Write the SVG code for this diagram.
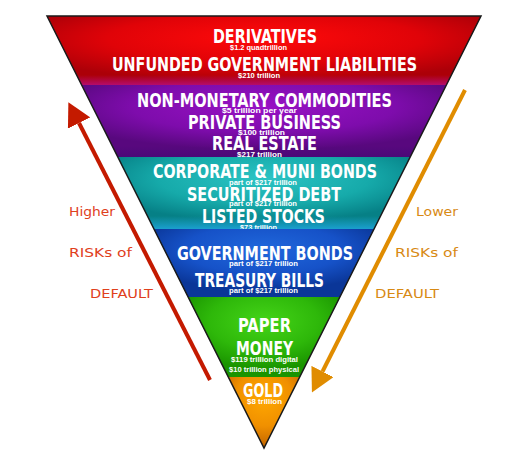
<svg xmlns="http://www.w3.org/2000/svg" width="510" height="464" viewBox="0 0 510 464">
<defs>
<radialGradient id="gRed" cx="0.5" cy="0.35" r="0.6" fx="0.5" fy="0.3">
<stop offset="0" stop-color="#ff0a0a"/><stop offset="0.6" stop-color="#e00308"/><stop offset="1" stop-color="#ac0008"/>
</radialGradient>
<radialGradient id="gPur" cx="0.5" cy="0.3" r="0.6">
<stop offset="0" stop-color="#9812c4"/><stop offset="0.6" stop-color="#7e0cac"/><stop offset="1" stop-color="#58087e"/>
</radialGradient>
<radialGradient id="gTeal" cx="0.5" cy="0.3" r="0.6">
<stop offset="0" stop-color="#2cc4c4"/><stop offset="0.6" stop-color="#16aaaa"/><stop offset="1" stop-color="#068086"/>
</radialGradient>
<radialGradient id="gBlue" cx="0.5" cy="0.3" r="0.6">
<stop offset="0" stop-color="#2068dc"/><stop offset="0.6" stop-color="#1652c8"/><stop offset="1" stop-color="#0a3698"/>
</radialGradient>
<radialGradient id="gGreen" cx="0.5" cy="0.3" r="0.6">
<stop offset="0" stop-color="#44d418"/><stop offset="0.6" stop-color="#2eb80a"/><stop offset="1" stop-color="#1a9400"/>
</radialGradient>
<radialGradient id="gOr" cx="0.5" cy="0.3" r="0.65">
<stop offset="0" stop-color="#ffa800"/><stop offset="0.6" stop-color="#f09000"/><stop offset="1" stop-color="#c86a00"/>
</radialGradient>
<linearGradient id="gRedBot" x1="0" y1="0" x2="0" y2="1">
<stop offset="0" stop-color="#b8108c" stop-opacity="0"/><stop offset="1" stop-color="#b8108c" stop-opacity="0.75"/>
</linearGradient>
<linearGradient id="gTealBot" x1="0" y1="0" x2="0" y2="1">
<stop offset="0" stop-color="#20a8e0" stop-opacity="0"/><stop offset="1" stop-color="#20a8e0" stop-opacity="0.8"/>
</linearGradient>
<linearGradient id="gPurBot" x1="0" y1="0" x2="0" y2="1">
<stop offset="0" stop-color="#3a0a70" stop-opacity="0"/><stop offset="1" stop-color="#3a0a70" stop-opacity="0.45"/>
</linearGradient>
<clipPath id="cpRed"><polygon points="47,16 481,16 446.3,85 81.7,85"/></clipPath>
<clipPath id="cpPur"><polygon points="81.7,85 446.3,85 410.2,157 117.8,157"/></clipPath>
<clipPath id="cpTeal"><polygon points="117.8,157 410.2,157 374,229 154,229"/></clipPath>
<marker id="headRed" viewBox="0 0 10 10" refX="0" refY="5" markerWidth="5.85" markerHeight="6.2" markerUnits="strokeWidth" orient="auto" preserveAspectRatio="none">
<path d="M0,0 L10,5 L0,10 z" fill="#c41a00"/>
</marker>
<marker id="headOr" viewBox="0 0 10 10" refX="0" refY="5" markerWidth="5.85" markerHeight="6.2" markerUnits="strokeWidth" orient="auto" preserveAspectRatio="none">
<path d="M0,0 L10,5 L0,10 z" fill="#e08c00"/>
</marker>
</defs>
<style>
.big{font-family:"Liberation Sans Narrow","DejaVu Sans Condensed","Liberation Sans",sans-serif;font-weight:bold;font-size:19.5px;fill:#fff;text-anchor:middle}
.sm{font-family:"Liberation Sans","DejaVu Sans",sans-serif;font-weight:bold;font-size:7px;fill:#fff;text-anchor:middle}
.hand{font-family:"DejaVu Sans","Liberation Sans",sans-serif;font-size:13px}
.red{fill:#e0401c}
.or{fill:#d88a14}
.edge{fill:none;stroke:#1a1a1a;stroke-width:1.5;stroke-linejoin:miter}
</style>
<rect width="510" height="464" fill="#fff"/>
<g id="band-derivatives">
<polygon points="47,16 481,16 446.3,85 81.7,85" fill="url(#gRed)"/>
<rect x="70" y="75" width="390" height="10" fill="url(#gRedBot)" clip-path="url(#cpRed)"/>
<text class="big" x="265" y="43" textLength="104" lengthAdjust="spacingAndGlyphs">DERIVATIVES</text>
<text class="sm" x="258.5" y="50" textLength="57" lengthAdjust="spacingAndGlyphs">$1.2 quadtrillion</text>
<text class="big" x="264.5" y="71" textLength="305" lengthAdjust="spacingAndGlyphs">UNFUNDED GOVERNMENT LIABILITIES</text>
<text class="sm" x="259" y="77.5" textLength="42" lengthAdjust="spacingAndGlyphs">$210 trillion</text>
</g>
<g id="band-commodities">
<polygon points="81.7,85 446.3,85 410.2,157 117.8,157" fill="url(#gPur)"/>
<rect x="100" y="146" width="330" height="11" fill="url(#gPurBot)" clip-path="url(#cpPur)"/>
<text class="big" x="264.5" y="107" textLength="255" lengthAdjust="spacingAndGlyphs">NON-MONETARY COMMODITIES</text>
<text class="sm" x="259.5" y="112.5" textLength="75" lengthAdjust="spacingAndGlyphs">$5 trillion per year</text>
<text class="big" x="264.5" y="128.5" textLength="153" lengthAdjust="spacingAndGlyphs">PRIVATE BUSINESS</text>
<text class="sm" x="261.5" y="134.5" textLength="47" lengthAdjust="spacingAndGlyphs">$100 trillion</text>
<text class="big" x="264.5" y="150" textLength="105" lengthAdjust="spacingAndGlyphs">REAL ESTATE</text>
<text class="sm" x="259.5" y="157" textLength="45" lengthAdjust="spacingAndGlyphs">$217 trillion</text>
</g>
<g id="band-bonds">
<polygon points="117.8,157 410.2,157 374,229 154,229" fill="url(#gTeal)"/>
<rect x="140" y="216" width="250" height="13" fill="url(#gTealBot)" clip-path="url(#cpTeal)"/>
<text class="big" x="265" y="178" textLength="224" lengthAdjust="spacingAndGlyphs">CORPORATE &amp; MUNI BONDS</text>
<text class="sm" x="263" y="184.5" textLength="68" lengthAdjust="spacingAndGlyphs">part of $217 trillion</text>
<text class="big" x="264" y="201" textLength="154" lengthAdjust="spacingAndGlyphs">SECURITIZED DEBT</text>
<text class="sm" x="263" y="205.5" textLength="68" lengthAdjust="spacingAndGlyphs">part of $217 trillion</text>
<text class="big" x="263.5" y="223" textLength="123" lengthAdjust="spacingAndGlyphs">LISTED STOCKS</text>
<text class="sm" x="258.5" y="229.5" textLength="37" lengthAdjust="spacingAndGlyphs">$73 trillion</text>
</g>
<g id="band-government">
<polygon points="154,229 374,229 339.9,297 188.1,297" fill="url(#gBlue)"/>
<text class="big" x="265" y="260" textLength="176" lengthAdjust="spacingAndGlyphs">GOVERNMENT BONDS</text>
<text class="sm" x="263.5" y="266" textLength="69" lengthAdjust="spacingAndGlyphs">part of $217 trillion</text>
<text class="big" x="259.5" y="287" textLength="129" lengthAdjust="spacingAndGlyphs">TREASURY BILLS</text>
<text class="sm" x="263.5" y="292.5" textLength="69" lengthAdjust="spacingAndGlyphs">part of $217 trillion</text>
</g>
<g id="band-paper">
<polygon points="188.1,297 339.9,297 299.7,377 228.3,377" fill="url(#gGreen)"/>
<text class="big" x="264.5" y="332" textLength="53" lengthAdjust="spacingAndGlyphs">PAPER</text>
<text class="big" x="264.5" y="355" textLength="57" lengthAdjust="spacingAndGlyphs">MONEY</text>
<text class="sm" x="264.5" y="362" textLength="67" lengthAdjust="spacingAndGlyphs">$119 trillion digital</text>
<text class="sm" x="264" y="372" textLength="70" lengthAdjust="spacingAndGlyphs">$10 trillion physical</text>
</g>
<g id="band-gold">
<polygon points="228.3,377 299.7,377 264,448" fill="url(#gOr)"/>
<text class="big" x="263" y="397" textLength="40" lengthAdjust="spacingAndGlyphs">GOLD</text>
<text class="sm" x="264.5" y="404" textLength="35" lengthAdjust="spacingAndGlyphs">$8 trillion</text>
</g>
<polygon class="edge" points="47,16 481,16 264,448"/>
<g id="connectors">
<line x1="210" y1="380" x2="79" y2="123" stroke="#c41a00" stroke-width="4" marker-end="url(#headRed)"/>
<line x1="465" y1="90" x2="322.5" y2="371.5" stroke="#e08c00" stroke-width="4" marker-end="url(#headOr)"/>
</g>
<g id="label-higher">
<text class="hand red" x="69" y="216" textLength="46" lengthAdjust="spacingAndGlyphs">Higher</text>
<text class="hand red" x="69" y="257" textLength="63" lengthAdjust="spacingAndGlyphs">RISKs of</text>
<text class="hand red" x="90" y="298" textLength="63" lengthAdjust="spacingAndGlyphs">DEFAULT</text>
</g>
<g id="label-lower">
<text class="hand or" x="416" y="216" textLength="42" lengthAdjust="spacingAndGlyphs">Lower</text>
<text class="hand or" x="395" y="257" textLength="63" lengthAdjust="spacingAndGlyphs">RISKs of</text>
<text class="hand or" x="375" y="298" textLength="64" lengthAdjust="spacingAndGlyphs">DEFAULT</text>
</g>
</svg>
